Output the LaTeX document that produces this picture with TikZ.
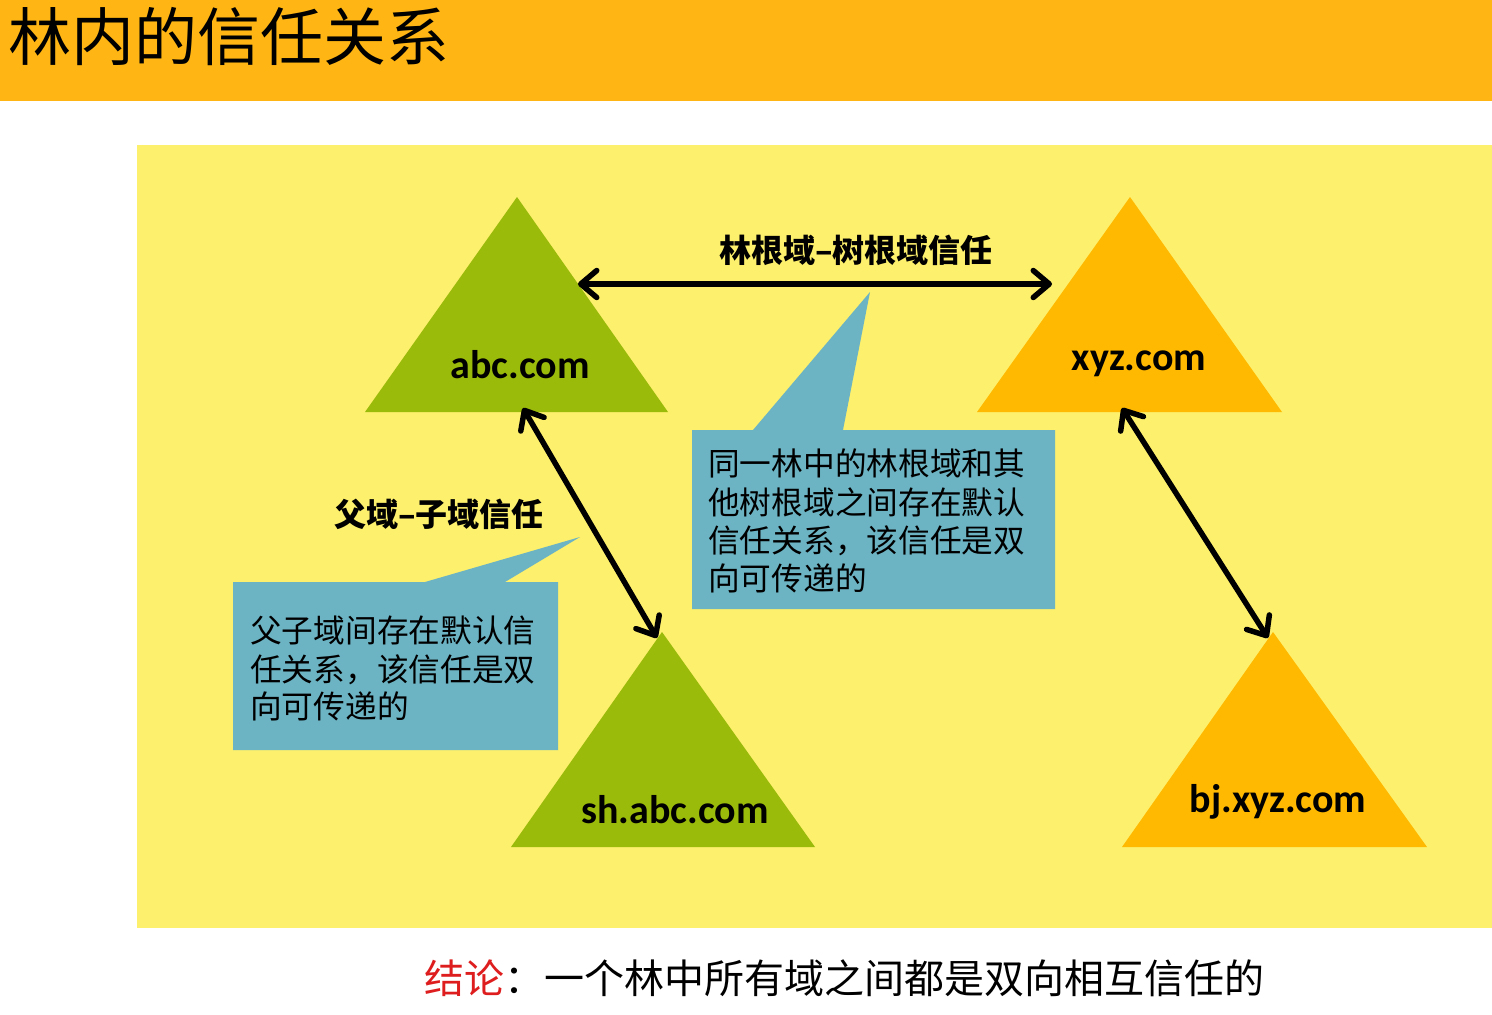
\documentclass[tikz,border=0pt]{standalone}
\usepackage{fontspec}
\setmainfont{Carlito}
\newfontfamily\cjk{Noto Sans CJK SC}
\usetikzlibrary{arrows.meta}
\definecolor{hdr}{RGB}{255,182,20}
\definecolor{panel}{RGB}{253,240,108}
\definecolor{grn}{RGB}{155,187,10}
\definecolor{org}{RGB}{255,185,0}
\definecolor{callout}{RGB}{108,180,196}
\definecolor{concl}{RGB}{222,30,30}
\tikzset{
  trust/.style={line width=5.5pt,
    {Straight Barb[length=16pt,width=27pt,round]}-{Straight Barb[length=16pt,width=27pt,round]}},
  dom/.style={anchor=base, inner sep=0pt, font=\fontsize{40}{48}\selectfont\bfseries},
  rel/.style={anchor=base, inner sep=0pt, font=\cjk\bfseries\fontsize{32}{38}\selectfont},
  note/.style={anchor=base west, inner sep=0pt, font=\cjk\fontsize{31.7}{38}\selectfont},
}
\begin{document}
\begin{tikzpicture}[x=1pt,y=-1pt]
\useasboundingbox (0,0) rectangle (1492,1015);
\fill[white] (0,0) rectangle (1492,1015);
% header
\fill[hdr] (0,0) rectangle (1492,101);
\node[anchor=base west, inner sep=0pt, font=\cjk\fontsize{63}{70}\selectfont] (title) at (8,60) {林内的信任关系};
% panel
\fill[panel] (137,145) rectangle (1492,928);
% triangles
\fill[grn] (517,197) -- (668,412) -- (365,412) -- cycle;
\fill[org] (1130,197) -- (1282,412) -- (977,412) -- cycle;
\fill[grn] (662,632) -- (815,847) -- (511,847) -- cycle;
\fill[org] (1273,632) -- (1427,847) -- (1122,847) -- cycle;
\node[dom] (abc) at (520,378) {abc.com};
\node[dom] (xyz) at (1139,370) {xyz.com};
\node[dom] (sh) at (675,823) {sh.abc.com};
\node[dom] (bj) at (1278,812) {bj.xyz.com};
% arrow end points
\coordinate (abcR) at (578,284);
\coordinate (xyzL) at (1052,284);
\coordinate (abcB) at (523,408);
\coordinate (shT) at (657,638);
\coordinate (xyzB) at (1122,408);
\coordinate (bjT) at (1268,638);
\draw[trust] (abcR) -- (xyzL);
\draw[trust] (abcB) -- (shT);
\draw[trust] (xyzB) -- (bjT);
\node[rel] (forestlbl) at (856,262) {林根域–树根域信任};
\node[rel] (parentlbl) at (439,526) {父域–子域信任};
% callout 1
\fill[callout] (692,430) -- (753,430) -- (870,292) -- (843,430) -- (1055,430) -- (1055,609) -- (692,609) -- cycle;
\node[note] (n1a) at (708,475) {同一林中的林根域和其};
\node[note] (n1b) at (708,514) {他树根域之间存在默认};
\node[note] (n1c) at (708,552) {信任关系，该信任是双};
\node[note] (n1d) at (708,590) {向可传递的};
% callout 2
\fill[callout] (233,582) -- (425,582) -- (580,537) -- (505,582) -- (558,582) -- (558,750) -- (233,750) -- cycle;
\node[note] (n2a) at (250,642) {父子域间存在默认信};
\node[note] (n2b) at (250,681) {任关系，该信任是双};
\node[note] (n2c) at (250,718) {向可传递的};
% conclusion
\node[anchor=base west, inner sep=0pt, font=\cjk\fontsize{40}{48}\selectfont] (concl) at (424,993) {\textcolor{concl}{结论}：一个林中所有域之间都是双向相互信任的};
\end{tikzpicture}
\end{document}
